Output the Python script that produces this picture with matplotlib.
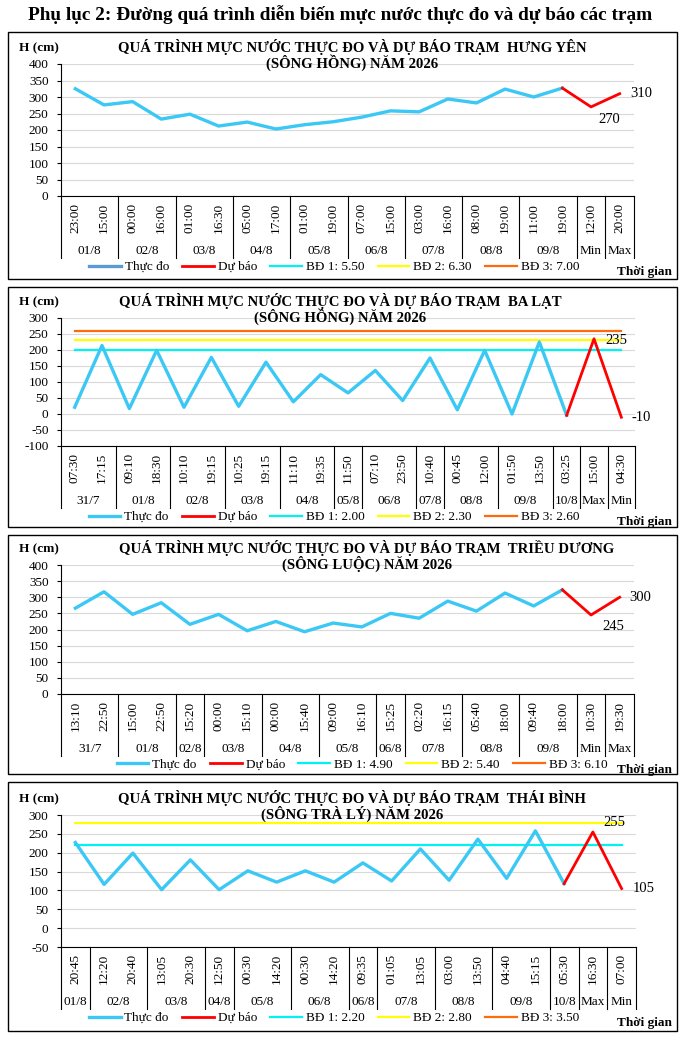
import numpy as np
import matplotlib
matplotlib.use("Agg")
import matplotlib.pyplot as plt
import matplotlib.transforms as mtransforms
from matplotlib.lines import Line2D
from matplotlib.patches import Rectangle

plt.rcParams['font.family'] = ['Liberation Serif', 'DejaVu Serif']
plt.rcParams['axes.unicode_minus'] = False

# ---- data ----
# Hung Yen
hy_times = ['23:00', '15:00', '00:00', '16:00', '01:00', '16:30', '05:00', '17:00', '01:00', '19:00',
            '07:00', '15:00', '03:00', '16:00', '08:00', '19:00', '11:00', '19:00', '12:00', '20:00']
hy_dates = ['01/8', '02/8', '03/8', '04/8', '05/8', '06/8', '07/8', '08/8', '09/8', 'Min', 'Max']
hy_counts = [2, 2, 2, 2, 2, 2, 2, 2, 2, 1, 1]
hy_obs = [325, 276, 286, 233, 248, 212, 224, 203, 216, 225, 239, 258, 255, 294, 282, 324, 300, 327]
hy_fc = [270, 310]
hy_bd = [5.50, 6.30, 7.00]

# Ba Lat
bl_times = ['07:30', '17:15', '09:10', '18:30', '10:10', '19:15', '10:25', '19:15', '11:10', '19:35', '11:50',
            '07:10', '23:50', '10:40', '00:45', '12:00', '01:50', '13:50', '03:25', '15:00', '04:30']
bl_dates = ['31/7', '01/8', '02/8', '03/8', '04/8', '05/8', '06/8', '07/8', '08/8', '09/8', '10/8', 'Max', 'Min']
bl_counts = [2, 2, 2, 2, 2, 1, 2, 1, 2, 2, 1, 1, 1]
bl_obs = [21, 214, 17, 199, 21, 177, 24, 162, 38, 123, 66, 136, 42, 175, 13, 199, 0, 225, -4]
bl_fc = [235, -10]
bl_bd = [2.00, 2.30, 2.60]

# Trieu Duong
td_times = ['13:10', '22:50', '15:00', '22:50', '15:20', '00:00', '15:10', '00:00', '15:40', '09:00',
            '16:10', '15:25', '02:20', '16:15', '05:40', '18:00', '09:40', '18:00', '10:30', '19:30']
td_dates = ['31/7', '01/8', '02/8', '03/8', '04/8', '05/8', '06/8', '07/8', '08/8', '09/8', 'Min', 'Max']
td_counts = [2, 2, 1, 2, 2, 2, 1, 2, 2, 2, 1, 1]
td_obs = [266, 317, 247, 283, 216, 247, 196, 225, 193, 220, 208, 250, 235, 288, 257, 313, 273, 323]
td_fc = [245, 300]
td_bd = [4.90, 5.40, 6.10]

# Thai Binh
tb_times = ['20:45', '12:20', '20:40', '13:05', '20:30', '12:50', '00:30', '14:20', '00:30', '14:20',
            '09:35', '01:05', '13:05', '03:00', '13:50', '04:40', '15:15', '05:30', '16:30', '07:00']
tb_dates = ['01/8', '02/8', '03/8', '04/8', '05/8', '06/8', '06/8', '07/8', '08/8', '09/8', '10/8', 'Max', 'Min']
tb_counts = [1, 2, 2, 1, 2, 2, 1, 2, 2, 2, 1, 1, 1]
tb_obs = [227, 116, 199, 102, 181, 102, 152, 122, 152, 122, 173, 125, 210, 127, 236, 132, 258, 118]
tb_fc = [255, 105]
tb_bd = [2.20, 2.80, 3.50]

W, H = 682, 1039
OBS_COLOR = '#3CC8F5'
FC_COLOR = '#FF0000'
BD_COLORS = ['#00F2F2', '#FFFF00', '#FF6A0D']
FS = 9.5

fig = plt.figure(figsize=(W / 100, H / 100), dpi=100)


def fy(y):
    return 1 - y / H


def draw_panel(box, plot, title1, title2, title_x, times, dates, counts, obs, fc, fc_off,
               bd, ylim, ystep, legend_x, obs_leg_color):
    l, t, r, b = box
    fig.patches.append(Rectangle((l / W, fy(b)), (r - l) / W, (b - t) / H, transform=fig.transFigure,
                                 fill=False, ec='black', lw=1.0))
    pl, pt, pr, pb = plot
    ph = pb - pt
    ax = fig.add_axes([pl / W, fy(pb), (pr - pl) / W, ph / H])
    n = len(times)
    x = np.arange(n)
    no = len(obs)

    # threshold lines (BĐ)
    for lvl, c in zip(bd, BD_COLORS):
        ax.plot([0, n - 1], [lvl * 100, lvl * 100], color=c, lw=1.6, zorder=2)

    ax.plot(x[:no], obs, color=OBS_COLOR, lw=2.4, zorder=3)
    ax.plot(x[no - 1:], [obs[-1]] + fc, color=FC_COLOR, lw=2.0, zorder=4)

    for i, v in enumerate(fc):
        dx, dy, ha = fc_off[i]
        ax.annotate(str(v), (x[no + i], v), xytext=(dx * 0.72, dy * 0.72), textcoords='offset points',
                    ha=ha, va='center', fontsize=10.5)

    ax.set_xlim(-0.5, n - 0.5)
    ax.set_ylim(ylim)
    ax.set_yticks(np.arange(ylim[0], ylim[1] + 1, ystep))
    ax.yaxis.grid(True, color='#D9D9D9', lw=0.8)
    ax.set_axisbelow(True)
    for s in ['top', 'right']:
        ax.spines[s].set_visible(False)
    for s in ['left', 'bottom']:
        ax.spines[s].set_color('black')
        ax.spines[s].set_linewidth(0.8)
    ax.tick_params(axis='x', bottom=False, labelbottom=False)
    ax.tick_params(axis='y', length=3, width=0.8, labelsize=FS, pad=6)

    # two-level category axis
    trans = mtransforms.blended_transform_factory(ax.transData, ax.transAxes)
    for i, lab in enumerate(times):
        ax.text(i, -22 / ph, lab, rotation=90, ha='center', va='center', fontsize=FS, transform=trans)
    start = 0
    edges = [-0.5]
    for d, c in zip(dates, counts):
        ax.text(start + (c - 1) / 2, -55 / ph, d, ha='center', va='center', fontsize=FS, transform=trans)
        start += c
        edges.append(start - 0.5)
    for e in edges:
        ax.plot([e, e], [0, -62 / ph], color='black', lw=0.8, transform=trans, clip_on=False)

    # titles
    fig.text(title_x / W, fy(pt - 17), title1, ha='center', va='center', fontsize=10.6, fontweight='bold')
    fig.text(title_x / W, fy(pt - 1), title2, ha='center', va='center', fontsize=10.6, fontweight='bold')
    fig.text(19 / W, fy(pt - 16), 'H (cm)', ha='left', va='center', fontsize=FS, fontweight='bold')

    handles = [Line2D([], [], color=obs_leg_color, lw=2.4),
               Line2D([], [], color=FC_COLOR, lw=2.0)]
    handles += [Line2D([], [], color=c, lw=1.6) for c in BD_COLORS]
    labels = ['Thực đo', 'Dự báo'] + ['BĐ %d: %.2f' % (k + 1, v) for k, v in enumerate(bd)]
    fig.legend(handles, labels, loc='center', bbox_to_anchor=(legend_x / W, fy(pb + 71)),
               bbox_transform=fig.transFigure, ncol=5, frameon=False, fontsize=FS,
               handlelength=2.4, handletextpad=0.3, columnspacing=1.0)
    fig.text(672 / W, fy(pb + 76), 'Thời gian', ha='right', va='center', fontsize=FS, fontweight='bold')
    return ax


fig.text(340 / W, fy(15), 'Phụ lục 2: Đường quá trình diễn biến mực nước thực đo và dự báo các trạm',
         ha='center', va='center', fontsize=13.9, fontweight='bold')

draw_panel((8, 32, 677, 279), (61, 64, 634, 196),
           'QUÁ TRÌNH MỰC NƯỚC THỰC ĐO VÀ DỰ BÁO TRẠM  HƯNG YÊN', '(SÔNG HỒNG) NĂM 2026', 352,
           hy_times, hy_dates, hy_counts, hy_obs, hy_fc, [(18, -13, 'center'), (11, 0, 'left')],
           hy_bd, (0, 400), 50, 334, '#5B9BD5')

draw_panel((8, 287, 677, 527), (61, 318, 635, 446),
           'QUÁ TRÌNH MỰC NƯỚC THỰC ĐO VÀ DỰ BÁO TRẠM  BA LẠT', '(SÔNG HỒNG) NĂM 2026', 340,
           bl_times, bl_dates, bl_counts, bl_obs, bl_fc, [(11, -2, 'left'), (10, 0, 'left')],
           bl_bd, (-100, 300), 50, 334, OBS_COLOR)

draw_panel((8, 535, 677, 774), (61, 565, 634, 694),
           'QUÁ TRÌNH MỰC NƯỚC THỰC ĐO VÀ DỰ BÁO TRẠM  TRIỀU DƯƠNG', '(SÔNG LUỘC) NĂM 2026', 367,
           td_times, td_dates, td_counts, td_obs, td_fc, [(22, -12, 'center'), (10, 0, 'left')],
           td_bd, (0, 400), 50, 362, OBS_COLOR)

draw_panel((8, 782, 677, 1031), (61, 815, 636, 947),
           'QUÁ TRÌNH MỰC NƯỚC THỰC ĐO VÀ DỰ BÁO TRẠM  THÁI BÌNH', '(SÔNG TRÀ LÝ) NĂM 2026', 352,
           tb_times, tb_dates, tb_counts, tb_obs, tb_fc, [(10, 9, 'left'), (11, 0, 'left')],
           tb_bd, (-50, 300), 50, 334, OBS_COLOR)

fig.savefig('out.png', dpi=100)
